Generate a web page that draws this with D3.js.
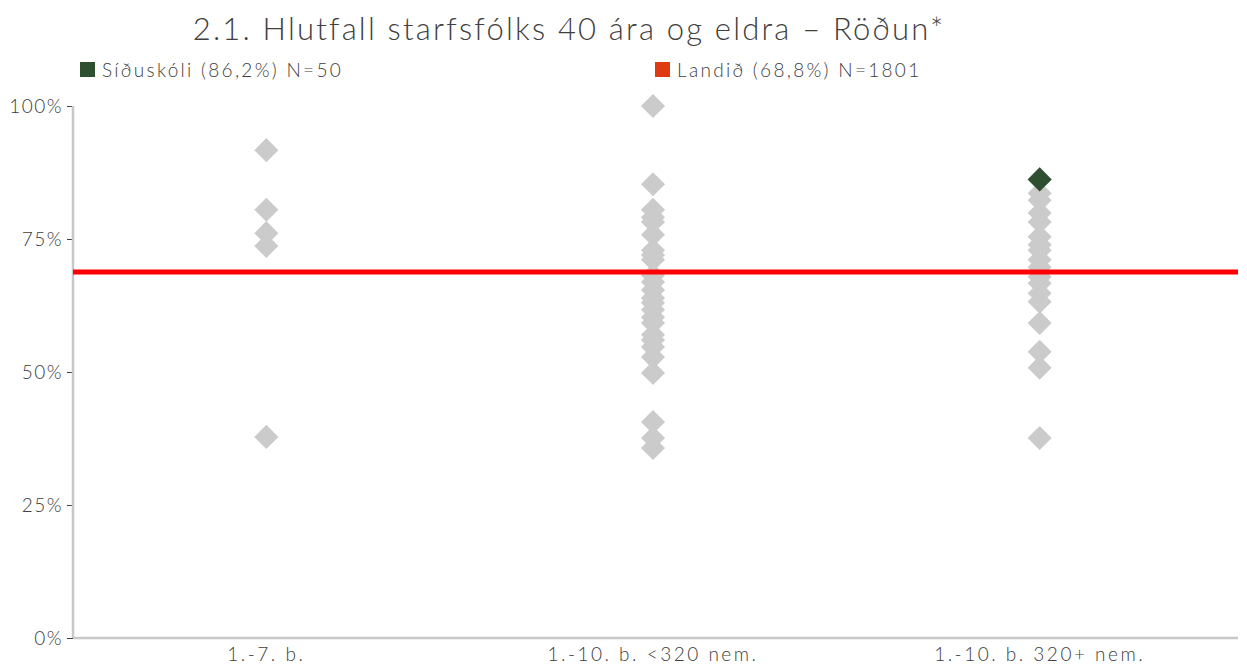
<!DOCTYPE html>
<html>
<head>
<meta charset="utf-8">
<script src="https://cdn.jsdelivr.net/npm/d3@7"></script>
<style>
  body { margin: 0; background: #fff; }
  svg { font-family: "Lato", "Open Sans", sans-serif; }
</style>
</head>
<body>
<svg id="chart" width="1247" height="670"></svg>
<script>
const categories = ["1.-7. b.", "1.-10. b. <320 nem.", "1.-10. b. 320+ nem."];

// other schools, per category (percent)
const schools1 = [91.7, 80.5, 76.1, 73.7, 37.8];
const schools2 = [100, 85.3, 80.5, 79.1, 78.2, 75.8, 72.9, 72.0, 71.1, 68.2, 66.9, 65.4,
  63.9, 63.0, 61.7, 60.3, 59.2, 57.0, 56.0, 54.7, 52.8, 49.8, 40.6, 37.6, 35.7];
const schools3 = [86.2, 83.6, 82.3, 79.9, 78.2, 75.4, 73.9, 72.9, 71.1, 69.7, 67.9, 66.7,
  64.8, 63.2, 59.2, 53.8, 50.8, 37.6];

const schoolValue = 86.2;      // Síðuskóli
const schoolCategory = categories[2];
const nationalValue = 68.8;    // Landið

const yTicks = [0, 25, 50, 75, 100];
const title = "2.1. Hlutfall starfsfólks 40 ára og eldra – Röðun*";
const legendLabels = ["Síðuskóli (86,2%) N=50", "Landið (68,8%) N=1801"];

let svg = d3.select("#chart");
let margin = { left: 73, right: 9, top: 106, bottom: 32 };
let width = 1247, height = 670;

let x = d3.scaleBand()
    .domain(categories)
    .range([margin.left, 1233]);

let y = d3.scaleLinear()
    .domain([0, 100])
    .range([height - margin.bottom, margin.top]);

// title
svg.append("text")
    .attr("x", 569)
    .attr("y", 40)
    .attr("text-anchor", "middle")
    .attr("fill", "#404040")
    .style("font-size", "31px")
    .style("font-weight", 300)
    .style("letter-spacing", "2.2px")
    .text(title);

// legend
let legendColors = ["#2E5030", "#E03A12"];
let legendX = [80, 655];
legendLabels.forEach(function (lab, i) {
    svg.append("rect")
        .attr("x", legendX[i]).attr("y", 62)
        .attr("width", 15).attr("height", 15)
        .attr("fill", legendColors[i]);
    svg.append("text")
        .attr("x", legendX[i] + 22).attr("y", 77)
        .attr("fill", "#404040")
        .style("font-size", "19px")
        .style("font-weight", 300)
        .style("letter-spacing", "2.3px")
        .text(lab);
});

// Y axis
let yAxis = svg.append("g")
    .attr("transform", "translate(" + margin.left + ",0)")
    .call(d3.axisLeft(y).tickValues(yTicks).tickFormat(d => d + "%").tickSize(6).tickPadding(4));
yAxis.select(".domain").remove();
yAxis.selectAll(".tick line").attr("stroke", "#404040");
yAxis.selectAll(".tick text").attr("fill", "#404040").style("font-size", "19px")
    .style("font-family", "Lato, sans-serif").style("font-weight", 300)
    .style("letter-spacing", "1.5px");

svg.append("line")
    .attr("x1", margin.left).attr("x2", margin.left)
    .attr("y1", y(100)).attr("y2", y(0))
    .attr("stroke", "#C8C8C8").attr("stroke-width", 2.5);

// X axis
let xAxis = svg.append("g")
    .attr("transform", "translate(0," + y(0) + ")")
    .call(d3.axisBottom(x).tickSize(0).tickPadding(10));
xAxis.select(".domain").attr("stroke", "#C8C8C8").attr("stroke-width", 2.5)
    .attr("d", "M" + margin.left + ",0H" + (width - margin.right));
xAxis.selectAll(".tick text").attr("fill", "#404040").style("font-size", "19px")
    .style("font-family", "Lato, sans-serif").style("font-weight", 300)
    .style("letter-spacing", "2.5px");

// diamonds
let diamond = d3.symbol().type(d3.symbolSquare).size(290)();
let allSchools = [schools1, schools2, schools3];
allSchools.forEach(function (vals, i) {
    svg.append("g").selectAll("path")
        .data(vals)
        .join("path")
        .attr("d", diamond)
        .attr("transform", d => "translate(" + (x(categories[i]) + x.bandwidth() / 2) + "," + y(d) + ") rotate(45)")
        .attr("fill", "#CBCBCB");
});

// national average line
svg.append("line")
    .attr("x1", margin.left).attr("x2", width - margin.right)
    .attr("y1", y(nationalValue)).attr("y2", y(nationalValue))
    .attr("stroke", "#FF0000").attr("stroke-width", 5);

// the school
svg.append("path")
    .attr("d", diamond)
    .attr("transform", "translate(" + (x(schoolCategory) + x.bandwidth() / 2) + "," + y(schoolValue) + ") rotate(45)")
    .attr("fill", "#2E5030");
</script>
</body>
</html>
